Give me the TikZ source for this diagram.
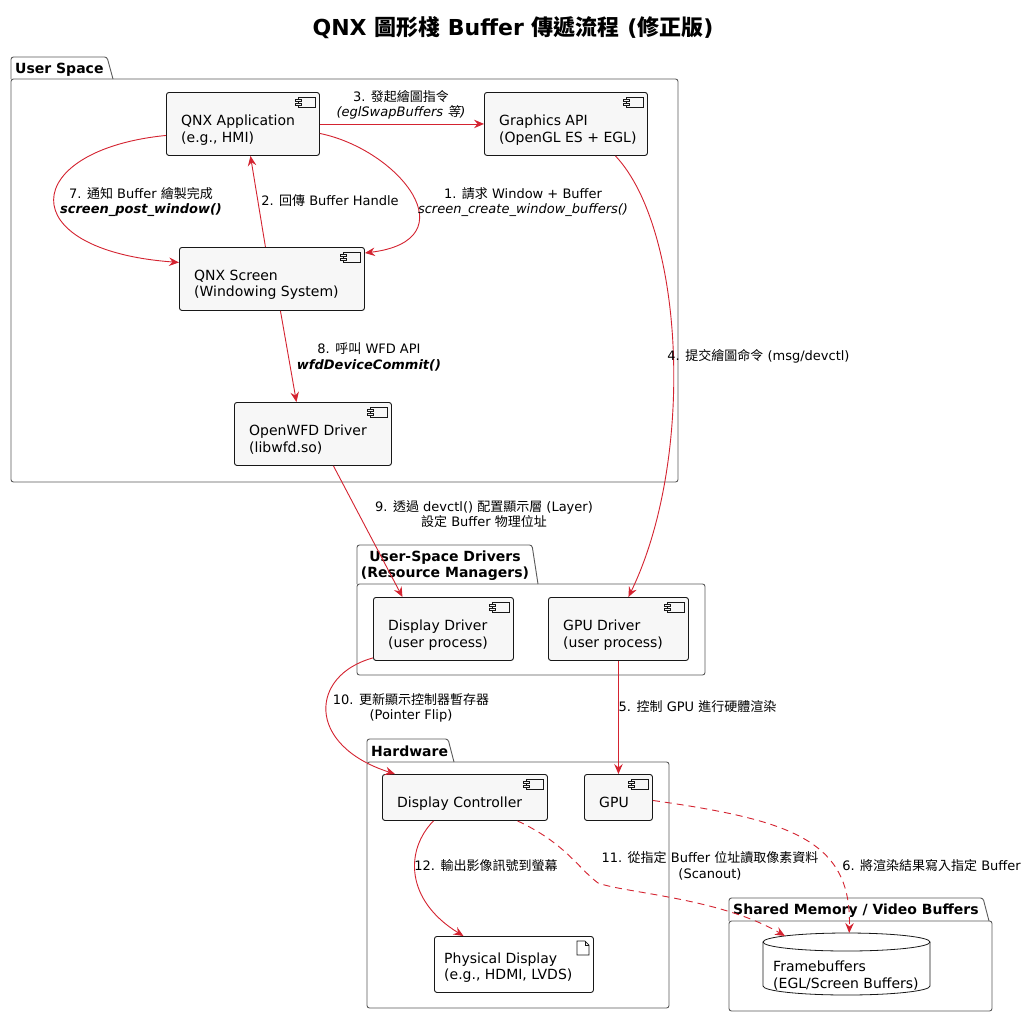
\documentclass[tikz,border=0pt]{standalone}
\usepackage{fontspec}
\setmainfont{DejaVu Sans}
\newfontfamily\cjk{Noto Sans CJK TC}
\newfontfamily\cjki[FakeSlant=0.2]{Noto Sans CJK TC}
\usetikzlibrary{arrows.meta}
\newcommand\C[1]{{\cjk #1}}
\newcommand\CI[1]{{\cjki #1}}
\definecolor{edgecol}{RGB}{212,35,48}
\definecolor{boxfill}{RGB}{247,247,247}
\definecolor{boxline}{RGB}{24,24,24}
\definecolor{pkgline}{RGB}{90,90,90}
\tikzset{
  compbox/.style={draw=boxline, fill=boxfill, line width=0.9pt, rounded corners=2.5pt, inner sep=0pt, anchor=north west},
  ntext/.style={font=\fontsize{14}{16.3}\selectfont, align=left, inner sep=0pt, anchor=north west},
  elabel/.style={font=\fontsize{13}{15.5}\selectfont, align=center, inner sep=0pt},
  flow/.style={draw=edgecol, line width=0.9pt, -{Stealth[length=10pt,width=8.5pt,inset=3.5pt]}},
  dflow/.style={flow, dash pattern=on 7pt off 5pt},
  pkgframe/.style={draw=pkgline, line width=0.9pt},
  pkglabel/.style={font=\bfseries\fontsize{14}{16.5}\selectfont, inner sep=0pt, align=center},
  iconline/.style={draw=boxline, line width=0.6pt, fill=boxfill},
}
\newcommand\compicon[1]{%
  \begin{scope}[shift={(#1.north east)}]
    \draw[iconline] (-22,5) rectangle (-5,15);
    \draw[iconline] (-25,7) rectangle (-19,9.5);
    \draw[iconline] (-25,11) rectangle (-19,13.5);
  \end{scope}}
\newcommand\comp[6]{%
  \node[compbox, minimum width=#4pt, minimum height=#5pt] (#1) at (#2,#3) {};
  \compicon{#1}
  \node[ntext] (#1t) at ([shift={(15,23)}]#1.north west) {#6};}
% folder: x1, tabtop, tabright, bodytop, x2, y2
\newcommand\folder[6]{%
  \draw[pkgframe, rounded corners=2.5pt] (#1,#4) -- (#1,#2) -- (#3,#2) -- ({#3+6},#4);
  \draw[pkgframe, rounded corners=2.5pt] (#1,#4) rectangle (#5,#6);}
\begin{document}
\begin{tikzpicture}[x=1pt, y=-1pt]
\useasboundingbox[fill=white] (0,0) rectangle (1027,1017);

% title
\node[inner sep=0pt] (title) at (513,27.5) {\fontsize{22}{26}\selectfont\bfseries QNX \C{圖形棧} Buffer \C{傳遞流程} (\C{修正版})};

% packages
\folder{11}{57}{107}{79}{678}{482}
\node[pkglabel, anchor=west] (pkgus) at (15,69.5) {User Space};
\folder{357}{545}{532}{584}{705}{675}
\node[pkglabel] (pkgusd) at (445,565.5) {User-Space Drivers\\(Resource Managers)};
\folder{367}{739}{448}{762}{669}{1008}
\node[pkglabel, anchor=west] (pkghw) at (371,751.5) {Hardware};
\folder{729}{898}{983}{921}{992}{1011}
\node[pkglabel, anchor=west] (pkgsm) at (733,910.5) {Shared Memory / Video Buffers};

% components
\comp{app}{166}{92}{153}{63}{QNX Application\\(e.g., HMI)}
\comp{gapi}{484}{92}{163}{63}{Graphics API\\(OpenGL ES + EGL)}
\comp{scr}{179}{247}{185}{63}{QNX Screen\\(Windowing System)}
\comp{wfd}{234}{402}{157}{63}{OpenWFD Driver\\(libwfd.so)}
\comp{dd}{373}{597}{140}{63}{Display Driver\\(user process)}
\comp{gpud}{548}{597}{140}{63}{GPU Driver\\(user process)}
\comp{dc}{382}{774}{165}{46}{Display Controller}
\comp{gpu}{584}{774}{68}{46}{GPU}

% artifact
\node[compbox, fill=white, minimum width=159pt, minimum height=56pt] (pd) at (434,936) {};
\begin{scope}[shift={(pd.north east)}]
  \draw[boxline, line width=0.7pt] (-17,5) -- (-9,5) -- (-5,9) -- (-5,19) -- (-17,19) -- cycle;
  \draw[boxline, line width=0.7pt] (-9,5) -- (-9,9) -- (-5,9);
\end{scope}
\node[ntext] (pdt) at ([shift={(10,16.5)}]pd.north west) {Physical Display\\(e.g., HDMI, LVDS)};

% database
\node[inner sep=0pt, minimum width=167pt, minimum height=62pt, anchor=north west] (fb) at (763,933) {};
\draw[boxline, line width=0.8pt, fill=white] (763,942) -- (763,986) arc[start angle=180, end angle=360, x radius=83.5, y radius=-9] -- (930,942) arc[start angle=0, end angle=180, x radius=83.5, y radius=-9] -- cycle;
\draw[boxline, line width=0.8pt] (763,942) arc[start angle=180, end angle=360, x radius=83.5, y radius=-9];
\node[ntext] (fbt) at ([shift={(10,28)}]fb.north west) {Framebuffers\\(EGL/Screen Buffers)};

% edges
\draw[flow] (app.east) -- (gapi.west);
\draw[flow] ([yshift=-9.5pt]app.east) .. controls (400,150) and (470,240) .. ([yshift=-6pt]scr.north east);
\draw[flow] ([xshift=-6.5pt]scr.north) -- ([xshift=7.5pt]app.south);
\draw[flow] ([yshift=-11.5pt]app.west) .. controls (20,150) and (10,250) .. ([yshift=16.5pt]scr.west);
\draw[flow] ([xshift=8.5pt]scr.south) -- ([xshift=-16.5pt]wfd.north);
\draw[flow] ([xshift=49.5pt]gapi.south) .. controls (685,230) and (695,460) .. ([xshift=10pt]gpud.north);
\draw[flow] ([xshift=20.5pt]wfd.south) -- ([xshift=-41pt]dd.north);
\draw[flow] (gpud.south) -- (gpu.north);
\draw[flow] ([yshift=3pt]dd.south west) .. controls (310,675) and (305,745) .. ([xshift=13pt]dc.north west);
\draw[flow] ([xshift=-31.5pt]dc.south) .. controls (405,850) and (405,900) .. ([xshift=-50.5pt]pd.north);
\draw[dflow] ([xshift=52.5pt]dc.south) .. controls (565,843) and (578,868) .. (598,883) .. controls (625,893) and (720,898) .. ([shift={(22,3)}]fb.north west);
\draw[dflow] ([yshift=-3pt]gpu.east) .. controls (790,820) and (852,840) .. ([xshift=2.5pt]fb.north);

% edge labels
\node[elabel] (l3) at (401,105) {3. \C{發起繪圖指令}\\\textit{(eglSwapBuffers} \CI{等}\textit{)}};
\node[elabel] (l1) at (523,202) {1. \C{請求} Window + Buffer\\\textit{screen\_create\_window\_buffers()}};
\node[elabel] (l7) at (141,202) {7. \C{通知} Buffer \C{繪製完成}\\\textbf{\textit{screen\_post\_window()}}};
\node[elabel] (l2) at (330,201) {2. \C{回傳} Buffer Handle};
\node[elabel] (l8) at (369,357) {8. \C{呼叫} WFD API\\\textbf{\textit{wfdDeviceCommit()}}};
\node[elabel] (l4) at (758.5,356) {4. \C{提交繪圖命令} (msg/devctl)};
\node[elabel] (l9) at (484,514) {9. \C{透過} devctl() \C{配置顯示層} (Layer)\\\C{設定} Buffer \C{物理位址}};
\node[elabel] (l10) at (411,708) {10. \C{更新顯示控制器暫存器}\\(Pointer Flip)};
\node[elabel] (l5) at (697.5,707) {5. \C{控制} GPU \C{進行硬體渲染}};
\node[elabel] (l12) at (486,866) {12. \C{輸出影像訊號到螢幕}};
\node[elabel] (l11) at (710,866) {11. \C{從指定} Buffer \C{位址讀取像素資料}\\(Scanout)};
\node[elabel] (l6) at (931.5,866) {6. \C{將渲染結果寫入指定} Buffer};
\end{tikzpicture}
\end{document}
